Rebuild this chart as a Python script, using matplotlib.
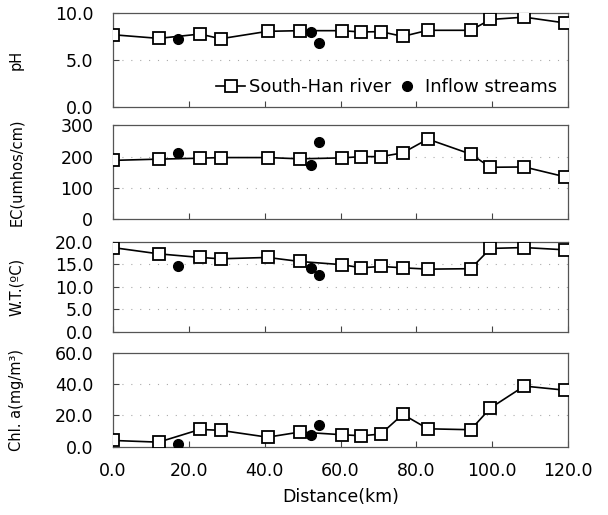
import numpy as np
import matplotlib
matplotlib.use('Agg')
import matplotlib.pyplot as plt

# river stations (km) and inflow stream points
dist = [0, 12.1, 23, 28.4, 40.8, 49.3, 60.3, 65.5, 70.6, 76.4, 83, 94.3, 99.5, 108.4, 119]
inflow_dist = [17.2, 52.2, 54.4]

ph = [7.66, 7.27, 7.73, 7.23, 8.02, 8.09, 8.09, 7.95, 7.99, 7.48, 8.13, 8.13, 9.28, 9.53, 8.92]
ph_in = [7.16, 7.95, 6.83]

ec = [188, 192, 195, 197, 197, 193, 196, 200, 200, 212, 256, 208, 166, 167, 136]
ec_in = [211, 172, 246]

wt = [18.7, 17.3, 16.5, 16.2, 16.5, 15.6, 14.9, 14.2, 14.5, 14.2, 13.9, 14.0, 18.5, 18.7, 18.2]
wt_in = [14.5, 14.1, 12.6]

chl = [3.9, 2.8, 11.0, 10.4, 6.0, 9.3, 7.6, 6.9, 8.0, 20.7, 11.4, 10.8, 24.8, 38.9, 36.3]
chl_in = [1.7, 7.6, 14.0]

xticks = [0, 20, 40, 60, 80, 100, 120]
xticklabels = ['0.0', '20.0', '40.0', '60.0', '80.0', '100.0', '120.0']

panels = [
    ('pH', ph, ph_in, [0, 5, 10], ['0.0', '5.0', '10.0'], 10),
    ('EC(umhos/cm)', ec, ec_in, [0, 100, 200, 300], ['0', '100', '200', '300'], 300),
    ('W.T.(ºC)', wt, wt_in, [0, 5, 10, 15, 20], ['0.0', '5.0', '10.0', '15.0', '20.0'], 20),
    ('Chl. a(mg/m³)', chl, chl_in, [0, 20, 40, 60], ['0.0', '20.0', '40.0', '60.0'], 60),
]

# axes rectangles in figure fraction
tops = [0.9753, 0.7567, 0.5307, 0.3140]
bots = [0.7928, 0.5742, 0.3559, 0.1330]
left, width = 0.1854, 0.7493

fig = plt.figure(figsize=(6.08, 5.15), dpi=100)

for i, (lab, river, inflow, yt, ytl, ymax) in enumerate(panels):
    ax = fig.add_axes([left, bots[i], width, tops[i] - bots[i]])
    for yv in yt[1:-1]:
        ax.axhline(yv, color='#aaaaaa', lw=0.8, ls=(0, (1, 7)), zorder=0)
    l1, = ax.plot(dist, river, color='black', lw=1.2, marker='s', ms=8,
                  mfc='white', mec='black', mew=1.3, label='South-Han river', zorder=3)
    l2, = ax.plot(inflow_dist, inflow, ls='none', marker='o', ms=7,
                  color='black', label='Inflow streams', zorder=4)
    ax.set_xlim(0, 120)
    ax.set_ylim(0, ymax)
    ax.set_yticks(yt)
    ax.set_yticklabels(ytl, fontsize=12.5)
    ax.set_xticks(xticks)
    ax.tick_params(axis='y', direction='in', length=4, pad=14, color='#444444')
    ax.tick_params(axis='x', direction='in', length=4, color='#444444')
    for s in ax.spines.values():
        s.set_color('#555555')
        s.set_linewidth(0.9)
    ax.set_ylabel(lab, fontsize=10.5)
    ax.yaxis.set_label_coords(-0.195, 0.5)
    if i < 3:
        ax.set_xticklabels([])
    else:
        ax.set_xticklabels(xticklabels, fontsize=12.5)
        ax.tick_params(axis='x', pad=11)
        ax.set_xlabel('Distance(km)', fontsize=12.5, labelpad=6)
    if i == 0:
        ax.legend(handles=[l1, l2], loc='lower right', bbox_to_anchor=(1.0, 0.0),
                  ncol=2, frameon=False, fontsize=13, handlelength=1.6,
                  handletextpad=0.2, columnspacing=0.1, borderaxespad=0.2)

fig.savefig('out.png', dpi=100)
